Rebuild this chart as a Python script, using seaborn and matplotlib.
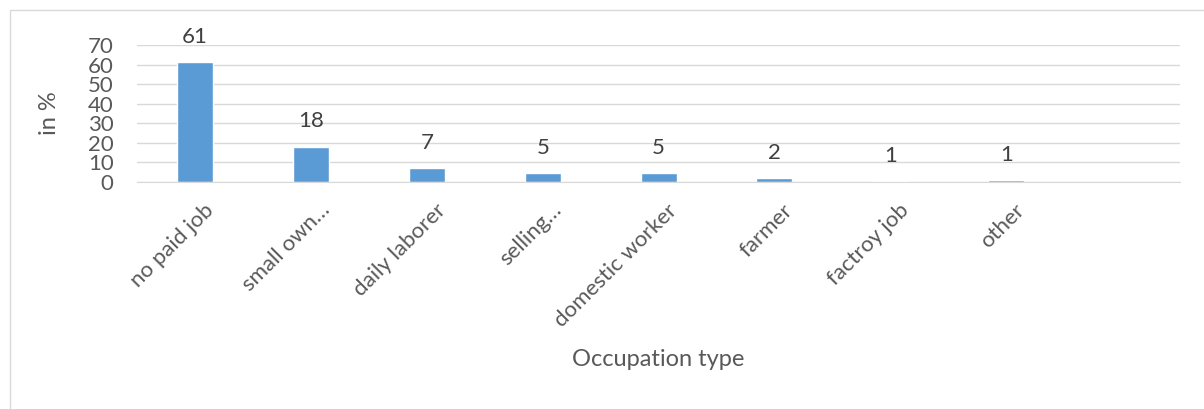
import pandas as pd
import seaborn as sns
import matplotlib.pyplot as plt
from matplotlib.patches import Rectangle
from matplotlib.transforms import ScaledTranslation

# data (percent)
occupations = ['no paid job', 'small own…', 'daily laborer', 'selling…', 'domestic worker',
               'farmer', 'factroy job', 'other', '']
shares = [61.2, 18.1, 7.1, 4.6, 4.6, 1.9, 0.6, 1.1, None]

df = pd.DataFrame({'Occupation type': occupations, 'in %': shares})

sns.set_style('white')
plt.rcParams['font.family'] = ['Lato', 'DejaVu Sans']
grey = '#595959'
fs = 16

fig, ax = plt.subplots(figsize=(12.04, 4.09), dpi=100)
fig.subplots_adjust(left=0.114, right=0.98, top=0.89, bottom=0.555)

sns.barplot(data=df, x='Occupation type', y='in %', color='#5B9BD5',
            width=0.31, saturation=1, ax=ax)

ax.set_ylim(0, 70)
ax.set_yticks(range(0, 71, 10))
ax.set_xlim(-0.5, len(occupations) - 0.5)
ax.yaxis.grid(True, color='#D9D9D9', linewidth=1)
ax.set_axisbelow(True)
for s in ['top', 'right', 'left']:
    ax.spines[s].set_visible(False)
ax.spines['bottom'].set_color('#D9D9D9')
ax.tick_params(axis='both', length=0, labelsize=fs, colors=grey)
ax.tick_params(axis='y', pad=17)
ax.tick_params(axis='x', pad=13)

ax.set_xticks(range(len(occupations)))
ax.set_xticklabels(occupations, rotation=45, ha='right', rotation_mode='anchor')
shift = ScaledTranslation(6 / 72, 0, fig.dpi_scale_trans)
for lbl in ax.get_xticklabels():
    lbl.set_color(grey)
    lbl.set_transform(lbl.get_transform() + shift)

ax.set_xlabel('Occupation type', fontsize=fs + 1, color=grey)
ax.set_ylabel('in %', fontsize=fs + 1, color=grey)
ax.xaxis.set_label_coords(0.5, -1.22)
ax.yaxis.set_label_coords(-0.074, 0.5)

# data labels
for i, v in enumerate(shares):
    if v is None:
        continue
    ax.annotate('{:.0f}'.format(v), (i, v), xytext=(0, 11), textcoords='offset points',
                ha='center', va='bottom', fontsize=fs, color='#404040')

# chart area border
fig.patches.append(Rectangle((10 / 1204, -0.1), 1.2, (409 - 10) / 409 + 0.1,
                             transform=fig.transFigure, fill=False,
                             edgecolor='#D9D9D9', linewidth=1, zorder=-1))

plt.savefig('out.png', dpi=100)
